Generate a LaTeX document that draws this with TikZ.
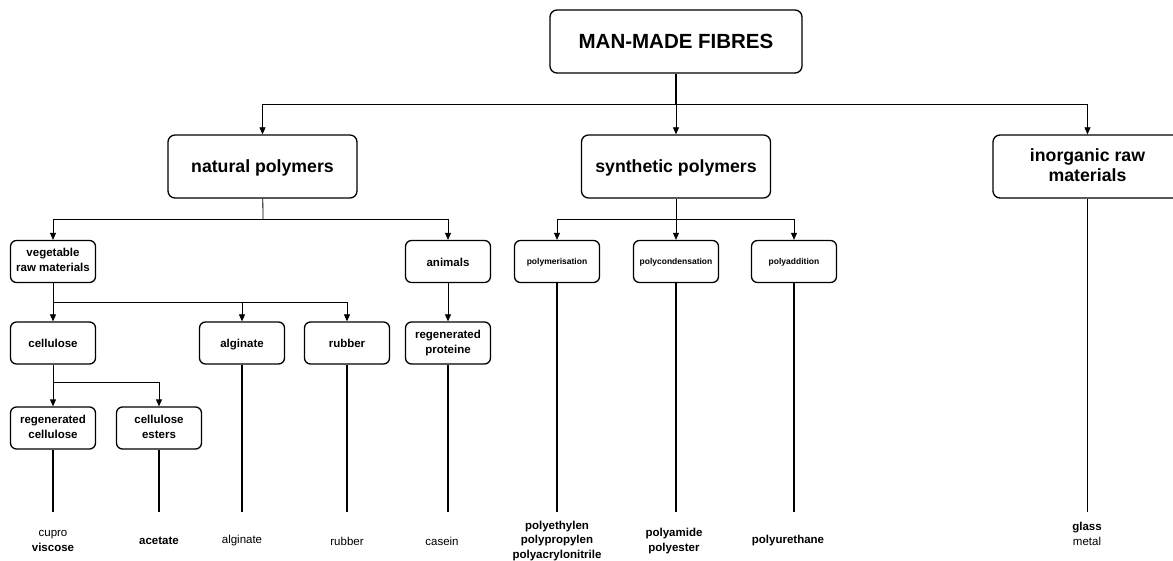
\documentclass[tikz,border=0pt]{standalone}
\usepackage{fontspec}
\setmainfont{Liberation Sans}
\usetikzlibrary{arrows.meta,calc}
\newcommand{\boxstrut}{\rule[-0.17\baselineskip]{0pt}{\baselineskip}}
\tikzset{
	box/.style={draw, rounded corners=7pt, line width=1.3pt, align=center, inner sep=2pt},
	struts/.style={execute at begin node=\boxstrut, execute at end node=\boxstrut},
	titlebox/.style={box, minimum width=252pt, minimum height=63pt, font=\fontsize{20.5}{24}\selectfont\bfseries},
	groupbox/.style={box, struts, minimum width=189pt, minimum height=63pt, font=\fontsize{17.7}{20}\selectfont\bfseries},
	smallbox/.style={box, struts, rounded corners=6pt, minimum width=85pt, minimum height=42pt, font=\fontsize{11.5}{15}\selectfont\bfseries},
	tinybox/.style={smallbox, font=\fontsize{8.5}{10}\selectfont\bfseries},
	bus/.style={line width=0.8pt},
	stem/.style={line width=1.3pt},
	arr/.style={bus, -{Triangle[length=7pt,width=6pt]}},
	fibre/.style={align=center, inner sep=0pt, font=\fontsize{11.5}{14.5}\selectfont}
}

\begin{document}
\begin{tikzpicture}[x=1pt, y=-1pt]
        \useasboundingbox (0,0) rectangle (1173,561);

        % Top and first level
        \node[titlebox] (top) at (676,41.5) {MAN-MADE FIBRES};
        \node[groupbox] (nat) at (262.5,166.5) {natural polymers};
        \node[groupbox] (syn) at (676,166.5) {synthetic polymers};
        \node[groupbox] (inorg) at (1087.5,166.5) {inorganic raw\\materials};

        % Second level
        \node[smallbox] (veg) at (53,261.5) {vegetable\\raw materials};
        \node[smallbox] (anim) at (448,261.5) {animals};
        \node[tinybox] (polym) at (557,261.5) {polymerisation};
        \node[tinybox] (pcond) at (676,261.5) {polycondensation};
        \node[tinybox] (padd) at (794,261.5) {polyaddition};

        % Third level
        \node[smallbox] (cell) at (53,343) {cellulose};
        \node[smallbox] (alg) at (242,343) {alginate};
        \node[smallbox] (rub) at (347,343) {rubber};
        \node[smallbox] (rprot) at (448,343) {regenerated\\proteine};

        % Fourth level
        \node[smallbox] (rcell) at (53,428) {regenerated\\cellulose};
        \node[smallbox] (cest) at (159,428) {cellulose\\esters};

        % Fibres at the bottom
        \node[fibre] (fcupro) at (53,541) {cupro\\\textbf{viscose}};
        \node[fibre] (facet) at (159,541) {\textbf{acetate}};
        \node[fibre] (falg) at (242,541) {alginate};
        \node[fibre] (frub) at (347,541) {rubber};
        \node[fibre] (fcas) at (442,541) {casein};
        \node[fibre, font=\fontsize{11.5}{14.5}\selectfont\bfseries] (fpoly) at (557,541) {polyethylen\\polypropylen\\polyacrylonitrile};
        \node[fibre, font=\fontsize{11.5}{14.5}\selectfont\bfseries] (fpam) at (674,541) {polyamide\\polyester};
        \node[fibre, font=\fontsize{11.5}{14.5}\selectfont\bfseries] (fpur) at (788,541) {polyurethane};
        \node[fibre] (fglass) at (1087,534) {\textbf{glass}\\metal};

        % Branch points
        \coordinate (j1) at (676,104);
        \coordinate (j2) at (263,219);
        \coordinate (j3) at (676,219);
        \coordinate (j4) at (53,302);
        \coordinate (j5) at (53,382);
        \coordinate (legend) at (0,512);

        % Connectors
        \draw[stem] (top) -- (j1);
        \draw[arr] (j1) -| (nat.north);
        \draw[arr] (j1) -- (syn.north);
        \draw[arr] (j1) -| (inorg.north);

        \draw[bus] (nat) -- (j2);
        \draw[arr] (j2) -| (veg.north);
        \draw[arr] (j2) -| (anim.north);

        \draw[bus] (syn) -- (j3);
        \draw[arr] (j3) -| (polym.north);
        \draw[arr] (j3) -- (pcond.north);
        \draw[arr] (j3) -| (padd.north);

        \draw[bus] (veg) -- (j4);
        \draw[arr] (j4) -- (cell.north);
        \draw[arr] (j4) -| (alg.north);
        \draw[arr] (j4) -| (rub.north);

        \draw[arr] (anim) -- (rprot.north);

        \draw[bus] (cell) -- (j5);
        \draw[arr] (j5) -- (rcell.north);
        \draw[arr] (j5) -| (cest.north);

        % Lines down to the fibres
        \foreach \n in {rcell,cest,alg,rub,rprot,polym,pcond,padd,inorg}
            \draw[stem] (\n.south) -- (\n.south |- legend);
    \end{tikzpicture}
\end{document}
